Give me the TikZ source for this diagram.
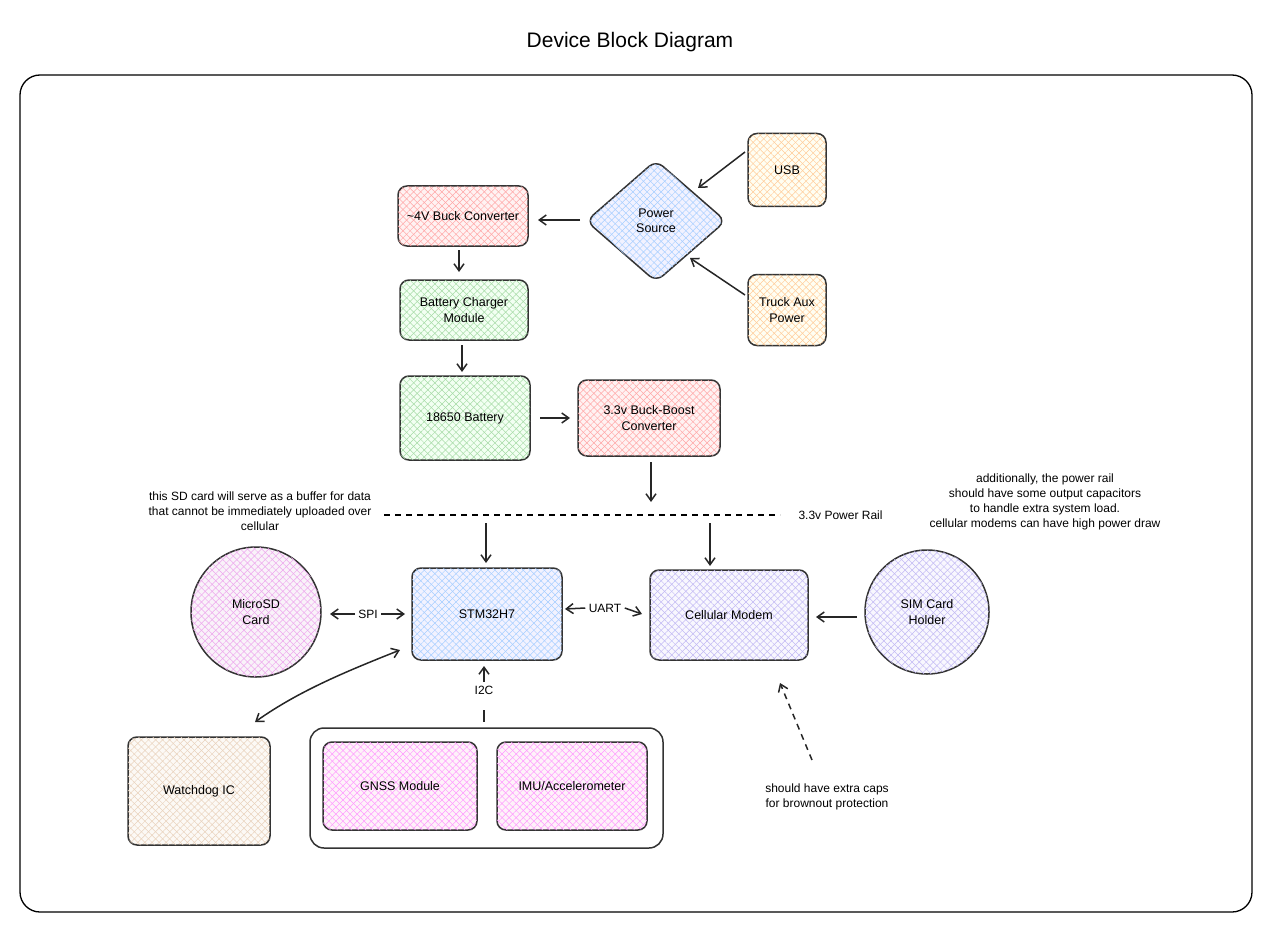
\documentclass[tikz,border=0pt]{standalone}
\usepackage{fontspec}
\setmainfont{Liberation Sans}
\usetikzlibrary{patterns,patterns.meta,arrows.meta,shapes.geometric}
\definecolor{modem}{RGB}{120,100,230}
\begin{document}
\begin{tikzpicture}[x=1pt,y=-1pt,
  hatch/.style n args={2}{preaction={fill=#1!5},
     pattern={Lines[angle=45,distance=5pt,line width=0.5pt]},pattern color=#2,
     postaction={pattern={Lines[angle=-45,distance=5pt,line width=0.5pt]},pattern color=#2}},
  hb/.style n args={2}{draw=black!80,line width=1.5pt,rounded corners=9pt,
     hatch={#1}{#2},
     align=center,font=\fontsize{12.5}{15.5}\selectfont,inner sep=0},
  ar/.style={-{Straight Barb[length=7pt,width=10pt]},line width=1.5pt,black!85},
  lab/.style={font=\fontsize{12}{15}\selectfont,align=center},
]
\useasboundingbox (0,0) rectangle (1271,952);
\node[font=\fontsize{21}{25}\selectfont] (title) at (630,42) {Device Block Diagram};
\draw[line width=1.3pt,rounded corners=20pt] (20,75) rectangle (1252,912);
% nodes
\node[hb={red}{red!35},minimum width=130,minimum height=60] (buck) at (463,216) {\textasciitilde 4V Buck Converter};
\node[hb={green}{green!60!black!35},minimum width=128,minimum height=60] (chg) at (464,310) {Battery Charger\\Module};
\node[hb={green}{green!60!black!35},minimum width=130,minimum height=84] (bat) at (465,418) {18650 Battery};
\node[hb={red}{red!35},minimum width=142,minimum height=76] (bb) at (649,418) {3.3v Buck-Boost\\Converter};
\node[draw=black!80,line width=1.5pt,diamond,aspect=1.15,minimum width=140,minimum height=122,rounded corners=9pt,
  hatch={blue}{cyan!45!blue!35},align=center,font=\fontsize{12.5}{15.5}\selectfont,inner sep=0] (ps) at (656,221) {Power\\Source};
\node[hb={yellow}{orange!40},minimum width=78,minimum height=73] (usb) at (787,170) {USB};
\node[hb={yellow}{orange!40},minimum width=78,minimum height=71] (aux) at (787,310) {Truck Aux\\Power};
\node[hb={blue}{cyan!45!blue!35},minimum width=150,minimum height=92] (stm) at (487,614) {STM32H7};
\node[hb={modem}{modem!45},minimum width=158,minimum height=90] (cell) at (729,615) {Cellular Modem};
\node[hb={violet}{magenta!60!violet!35},circle,minimum size=130] (sd) at (256,612) {MicroSD\\Card};
\node[hb={modem}{modem!45},circle,minimum size=124] (sim) at (927,612) {SIM Card\\Holder};
\node[hb={brown}{brown!35},minimum width=142,minimum height=108] (wd) at (199,791) {Watchdog IC};
\node[draw=black!80,line width=1.5pt,rounded corners=14pt,minimum width=353,minimum height=120] (grp) at (486.5,788) {};
\node[hb={magenta}{magenta!40},minimum width=154,minimum height=88] (gnss) at (400,786) {GNSS Module};
\node[hb={magenta}{magenta!40},minimum width=150,minimum height=88] (imu) at (572,786) {IMU/Accelerometer};
% rail
\coordinate (r1) at (384,515); \coordinate (r2) at (780,515);
\draw[line width=1.3pt,dash pattern=on 6pt off 5pt] (r1) -- (r2);
\node[lab,anchor=west] (railt) at (795,515) {3.3v Power Rail};
% texts
\node[lab] (t1) at (260,511) {this SD card will serve as a buffer for data\\that cannot be immediately uploaded over\\cellular};
\node[lab] (t2) at (1045,502) {additionally, the power rail\\should have some output capacitors\\to handle extra system load.\\cellular modems can have high power draw};
\node[lab] (t3) at (827,797) {should have extra caps\\for brownout protection};
% arrows
\coordinate (psw) at (580,220);
\draw[ar] (psw) -- (538,220);
\draw[ar] (745,152) -- (698,188);
\draw[ar] (745,295) -- (690,258);
\draw[ar] (459,250) -- (459,272);
\draw[ar] (462,345) -- (462,372);
\draw[ar] (540,418) -- (570,418);
\draw[ar] (651,462) -- (651,502);
\draw[ar] (486,523) -- (486,563);
\draw[ar] (710,523) -- (710,566);
\node[lab] (spi) at (368,614) {SPI};
\draw[ar] (spi.west) -- (330,614);
\draw[ar] (spi.east) -- (405,614);
\node[lab] (uart) at (605,608) {UART};
\draw[ar] (uart.west) -- (565,609);
\draw[ar] (uart.east) -- (642,614);
\draw[ar] (857,617) -- (816,617);
\node[lab] (i2c) at (484,690) {I2C};
\draw[ar] (i2c.north) -- (484,666);
\draw[line width=1.5pt,black!85] (484,710) -- (484,722);
\draw[ar,{Straight Barb[length=7pt,width=10pt]}-{Straight Barb[length=7pt,width=10pt]}] (255,722) .. controls (300,690) and (350,670) .. (400,650);
\draw[ar,dash pattern=on 6pt off 5pt] (812,760) -- (780,683);
\end{tikzpicture}
\end{document}
